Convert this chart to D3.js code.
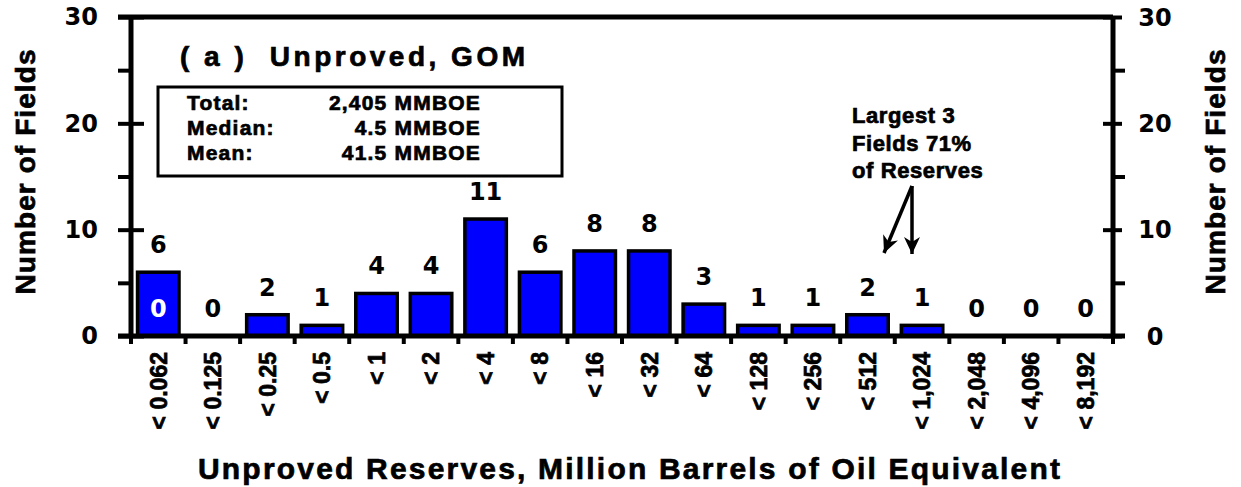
<!DOCTYPE html>
<meta charset="utf-8">
<body style="margin:0;background:#fff">
<svg width="1241" height="487"></svg>
</body>
<script src="https://d3js.org/d3.v7.min.js"></script>
<script>

// size classes, MMBOE
var categories = ["< 0.062", "< 0.125", "< 0.25", "< 0.5", "< 1", "< 2", "< 4", "< 8", "< 16",
    "< 32", "< 64", "< 128", "< 256", "< 512", "< 1,024", "< 2,048", "< 4,096", "< 8,192"];
// number of fields per class
var counts = [6, 0, 2, 1, 4, 4, 11, 6, 8, 8, 3, 1, 1, 2, 1, 0, 0, 0];
// the white label drawn inside the first bar
var innerLabels = [{cat: "< 0.062", text: "0"}];

var majorTicks = [0, 10, 20, 30];
var minorTicks = [5, 15, 25];

var statNames = ["Total:", "Median:", "Mean:"];
var statValues = ["2,405 MMBOE", "4.5 MMBOE", "41.5 MMBOE"];
var noteLines = ["Largest 3", "Fields 71%", "of Reserves"];

var table = categories.map((c, i) => ({cat: c, value: counts[i]}));

var svg = d3.select("svg"),
    plotLeft = 131, plotRight = 1113, plotTop = 17, plotBottom = 336;

var x = d3.scaleBand()
    .domain(categories)
    .range([plotLeft, plotRight])
    .paddingInner(0.24)
    .paddingOuter(0.12);

var y = d3.scaleLinear()
    .domain([0, 30])
    .range([plotBottom, plotTop]);

var arial = "'Liberation Sans', Arial, sans-serif",
    wide = "'DejaVu Sans', Verdana, sans-serif";

// makes the thin Liberation bold look like the heavy original lettering
function heavy(sel) {
    sel.attr("stroke", "#000").attr("stroke-width", 0.7).attr("fill", "#000");
}

// bars
svg.append("g").selectAll("rect")
    .data(table.filter(d => d.value > 0))
    .join("rect")
    .attr("x", d => x(d.cat))
    .attr("y", d => y(d.value))
    .attr("width", x.bandwidth())
    .attr("height", d => y(0) - y(d.value))
    .attr("fill", "#0000ff")
    .attr("stroke", "#000")
    .attr("stroke-width", 3.5);

// value labels
svg.append("g").selectAll("text")
    .data(table)
    .join("text")
    .attr("x", d => x(d.cat) + x.bandwidth() / 2)
    .attr("y", d => y(d.value) - 19)
    .attr("text-anchor", "middle")
    .style("font", "bold 24px " + wide)
    .text(d => d.value);

svg.append("g").selectAll("text")
    .data(innerLabels)
    .join("text")
    .attr("x", d => x(d.cat) + x.bandwidth() / 2)
    .attr("y", y(0) - 19)
    .attr("text-anchor", "middle")
    .attr("fill", "#fff")
    .style("font", "bold 24px " + wide)
    .text(d => d.text);

// frame: top line
svg.append("line")
    .attr("x1", plotLeft - 13).attr("x2", plotRight)
    .attr("y1", y(30)).attr("y2", y(30))
    .attr("stroke", "#000").attr("stroke-width", 5);

// left axis
var gl = svg.append("g").attr("transform", "translate(" + plotLeft + ",0)");
gl.call(d3.axisLeft(y).tickValues(majorTicks).tickSize(13).tickPadding(20));
gl.append("g").call(d3.axisRight(y).tickValues(majorTicks).tickSize(13).tickFormat(""));
gl.append("g").call(d3.axisLeft(y).tickValues(minorTicks).tickSize(13).tickFormat(""));

// right axis
var gr = svg.append("g").attr("transform", "translate(" + plotRight + ",0)");
gr.call(d3.axisRight(y).tickValues(majorTicks).tickSize(9).tickPadding(0).tickFormat(""));
gr.append("g").call(d3.axisLeft(y).tickValues(majorTicks).tickSize(10).tickFormat(""));
gr.append("g").call(d3.axisRight(y).tickValues(minorTicks).tickSize(12).tickFormat(""));
gr.append("g").selectAll("text")
    .data(majorTicks)
    .join("text")
    .attr("x", 42)
    .attr("y", d => y(d))
    .attr("dy", "0.36em")
    .attr("text-anchor", "middle")
    .text(d => d);

[gl, gr].forEach(g => {
    g.selectAll(".domain").attr("stroke-width", 5);
    g.selectAll("line").attr("stroke-width", 4);
    g.selectAll("text").style("font", "bold 24px " + wide).attr("fill", "#000");
});
gl.select(".domain").attr("d", "M0," + y(30) + "V" + y(0));
gr.select(".domain").attr("d", "M0," + y(30) + "V" + y(0));
gr.selectAll("g g .domain").remove();
gl.selectAll("g g .domain").remove();

// bottom axis: baseline, ticks on band edges, rotated labels
var edges = categories.map(c => x(c) - x.step() * x.paddingOuter()).concat([plotRight]);
var gb = svg.append("g");
gb.append("line")
    .attr("x1", plotLeft - 13).attr("x2", plotRight + 12)
    .attr("y1", y(0)).attr("y2", y(0))
    .attr("stroke", "#000").attr("stroke-width", 5);
gb.selectAll(".tk")
    .data(edges)
    .join("line")
    .attr("x1", d => d).attr("x2", d => d)
    .attr("y1", y(0)).attr("y2", y(0) + 8)
    .attr("stroke", "#000").attr("stroke-width", 4);
gb.selectAll("text")
    .data(categories)
    .join("text")
    .attr("transform", d => "translate(" + (x(d) + x.bandwidth() / 2) + "," + (y(0) + 16) + ") rotate(-90)")
    .attr("dy", "0.36em")
    .attr("text-anchor", "end")
    .style("font", "bold 23px " + arial)
    .text(d => d)
    .call(heavy);

// axis titles
svg.append("text")
    .attr("transform", "translate(35,172) rotate(-90)")
    .attr("text-anchor", "middle")
    .attr("textLength", 245)
    .style("font", "bold 28px " + arial)
    .text("Number of Fields")
    .call(heavy);
svg.append("text")
    .attr("transform", "translate(1225,172) rotate(-90)")
    .attr("text-anchor", "middle")
    .attr("textLength", 245)
    .style("font", "bold 28px " + arial)
    .text("Number of Fields")
    .call(heavy);
svg.append("text")
    .attr("x", 629).attr("y", 479)
    .attr("text-anchor", "middle")
    .attr("textLength", 862)
    .style("font", "bold 30px " + arial)
    .text("Unproved Reserves, Million Barrels of Oil Equivalent")
    .call(heavy);

// panel title
svg.append("text")
    .attr("x", 180).attr("y", 66)
    .attr("textLength", 345)
    .style("font", "bold 28px " + arial)
    .style("white-space", "pre")
    .text("( a )  Unproved, GOM")
    .call(heavy);

// stats box
svg.append("rect")
    .attr("x", 158).attr("y", 87)
    .attr("width", 404).attr("height", 89)
    .attr("fill", "#fff")
    .attr("stroke", "#000").attr("stroke-width", 3);
svg.append("g").selectAll("text")
    .data(statNames)
    .join("text")
    .attr("x", 187)
    .attr("y", (d, i) => 110 + i * 25)
    .style("font", "bold 21px " + arial)
    .style("letter-spacing", "1.2px")
    .text(d => d)
    .call(heavy);
svg.append("g").selectAll("text")
    .data(statValues)
    .join("text")
    .attr("x", 481)
    .attr("y", (d, i) => 110 + i * 25)
    .attr("text-anchor", "end")
    .style("font", "bold 21px " + arial)
    .style("letter-spacing", "1.2px")
    .text(d => d)
    .call(heavy);

// note with arrows
svg.append("g").selectAll("text")
    .data(noteLines)
    .join("text")
    .attr("x", 852)
    .attr("y", (d, i) => 123 + i * 27.5)
    .style("font", "bold 22px " + arial)
    .style("letter-spacing", "0.6px")
    .text(d => d)
    .call(heavy);

var arrowFrom = [912, 186];
var arrowTo = [[884, 253], [912, 254]];
var ga = svg.append("g");
ga.selectAll("line")
    .data(arrowTo)
    .join("line")
    .attr("x1", arrowFrom[0]).attr("y1", arrowFrom[1])
    .attr("x2", d => d[0]).attr("y2", d => d[1])
    .attr("stroke", "#000").attr("stroke-width", 3.5);
// barbed heads, turned along each shaft
ga.selectAll("path")
    .data(arrowTo)
    .join("path")
    .attr("d", "M0,0 L-17,-8 L-12,0 L-17,8 Z")
    .attr("transform", d => {
        var a = Math.atan2(d[1] - arrowFrom[1], d[0] - arrowFrom[0]) * 180 / Math.PI;
        return "translate(" + d[0] + "," + d[1] + ") rotate(" + a + ")";
    })
    .attr("fill", "#000");

</script>
